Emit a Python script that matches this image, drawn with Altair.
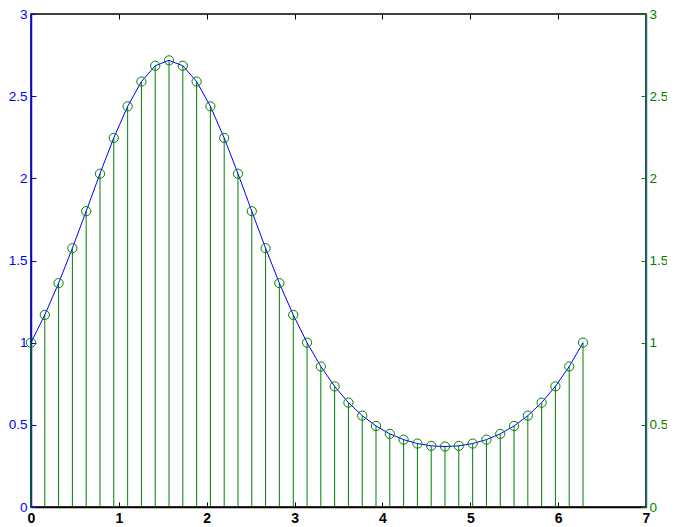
import altair as alt
import pandas as pd

# sample positions (x) and values
x_vals = [0.000, 0.157, 0.314, 0.471, 0.628, 0.785, 0.942, 1.100, 1.257, 1.414,
          1.571, 1.728, 1.885, 2.042, 2.199, 2.356, 2.513, 2.670, 2.827, 2.985,
          3.142, 3.299, 3.456, 3.613, 3.770, 3.927, 4.084, 4.241, 4.398, 4.555,
          4.712, 4.869, 5.027, 5.184, 5.341, 5.498, 5.655, 5.812, 5.969, 6.126,
          6.283]
y_vals = [1.000, 1.169, 1.362, 1.575, 1.800, 2.028, 2.246, 2.438, 2.589, 2.685,
          2.718, 2.685, 2.589, 2.438, 2.246, 2.028, 1.800, 1.575, 1.362, 1.169,
          1.000, 0.855, 0.734, 0.635, 0.556, 0.493, 0.445, 0.410, 0.386, 0.372,
          0.368, 0.372, 0.386, 0.410, 0.445, 0.493, 0.556, 0.635, 0.734, 0.855,
          1.000]
x_ticks = [0, 1, 2, 3, 4, 5, 6, 7]
y_ticks = [0, 0.5, 1, 1.5, 2, 2.5, 3]

df = pd.DataFrame({"x": x_vals, "y": y_vals})

FONT = "Liberation Sans"
BLUE = "#0000ff"
GREEN = "#008000"
TEAL = "#1a6b80"


def xs():
    return alt.Scale(domain=[0, 7], nice=False, zero=False)


def ys():
    return alt.Scale(domain=[0, 3], nice=False, zero=False)


common = dict(grid=False, title=None, labelFlush=False, labelOverlap=False)

ax_bottom = alt.Axis(orient="bottom", values=x_ticks, ticks=False, domain=True,
                     domainColor="black", domainWidth=1.5, labelColor="black",
                     labelFontWeight="bold", labelFont=FONT, labelFontSize=14,
                     labelPadding=4, format="d", **common)
ax_bottom_ticks = alt.Axis(orient="bottom", values=x_ticks, offset=-5, ticks=True,
                           tickSize=5, tickColor="black", domain=False, labels=False,
                           **common)
ax_top_ticks = alt.Axis(orient="top", values=x_ticks, offset=-5, ticks=True,
                        tickSize=5, tickColor="black", domain=False, labels=False,
                        **common)
ax_left = alt.Axis(orient="left", values=y_ticks, ticks=False, domain=True,
                   domainColor=BLUE, domainWidth=1.5, labelColor=BLUE, labelFont=FONT,
                   labelFontSize=13.5, labelPadding=4, format="~g", **common)
ax_left_ticks = alt.Axis(orient="left", values=y_ticks, offset=-5, ticks=True,
                         tickSize=5, tickColor=BLUE, domain=False, labels=False,
                         **common)
ax_right = alt.Axis(orient="right", values=y_ticks, ticks=False, domain=True,
                    domainColor=TEAL, domainWidth=1.5, labelColor=GREEN, labelFont=FONT,
                    labelFontSize=13.5, labelPadding=3, format="~g", **common)
ax_right_ticks = alt.Axis(orient="right", values=y_ticks, offset=-5, ticks=True,
                          tickSize=5, tickColor=GREEN, domain=False, labels=False,
                          **common)

base = alt.Chart(df)

stems = base.mark_rule(color=GREEN, strokeWidth=1).encode(
    x=alt.X("x:Q", scale=xs(), axis=ax_bottom_ticks),
    y=alt.Y("y:Q", scale=ys(), axis=ax_right),
    y2=alt.datum(0),
)

line = base.mark_line(color=BLUE, strokeWidth=1).encode(
    x=alt.X("x:Q", scale=xs(), axis=ax_bottom),
    y=alt.Y("y:Q", scale=ys(), axis=ax_left),
)

circles = base.mark_point(shape="circle", filled=False, color=GREEN, size=85,
                          strokeWidth=1, opacity=1).encode(
    x=alt.X("x:Q", scale=xs(), axis=ax_top_ticks),
    y=alt.Y("y:Q", scale=ys(), axis=ax_left_ticks),
)

ghost = base.mark_point(opacity=0).encode(
    x=alt.X("x:Q", scale=xs(), axis=None),
    y=alt.Y("y:Q", scale=ys(), axis=ax_right_ticks),
)

chart = alt.layer(stems, line, circles, ghost).resolve_scale(
    x="independent", y="independent"
).properties(
    width=615,
    height=493,
    background="white",
    autosize=alt.AutoSizeParams(type="none"),
    padding={"left": 23, "top": 6, "right": 21, "bottom": 20},
).configure_view(stroke="black", strokeWidth=1.5)

chart.save("out.html", embed_options={"renderer": "svg", "actions": False})
